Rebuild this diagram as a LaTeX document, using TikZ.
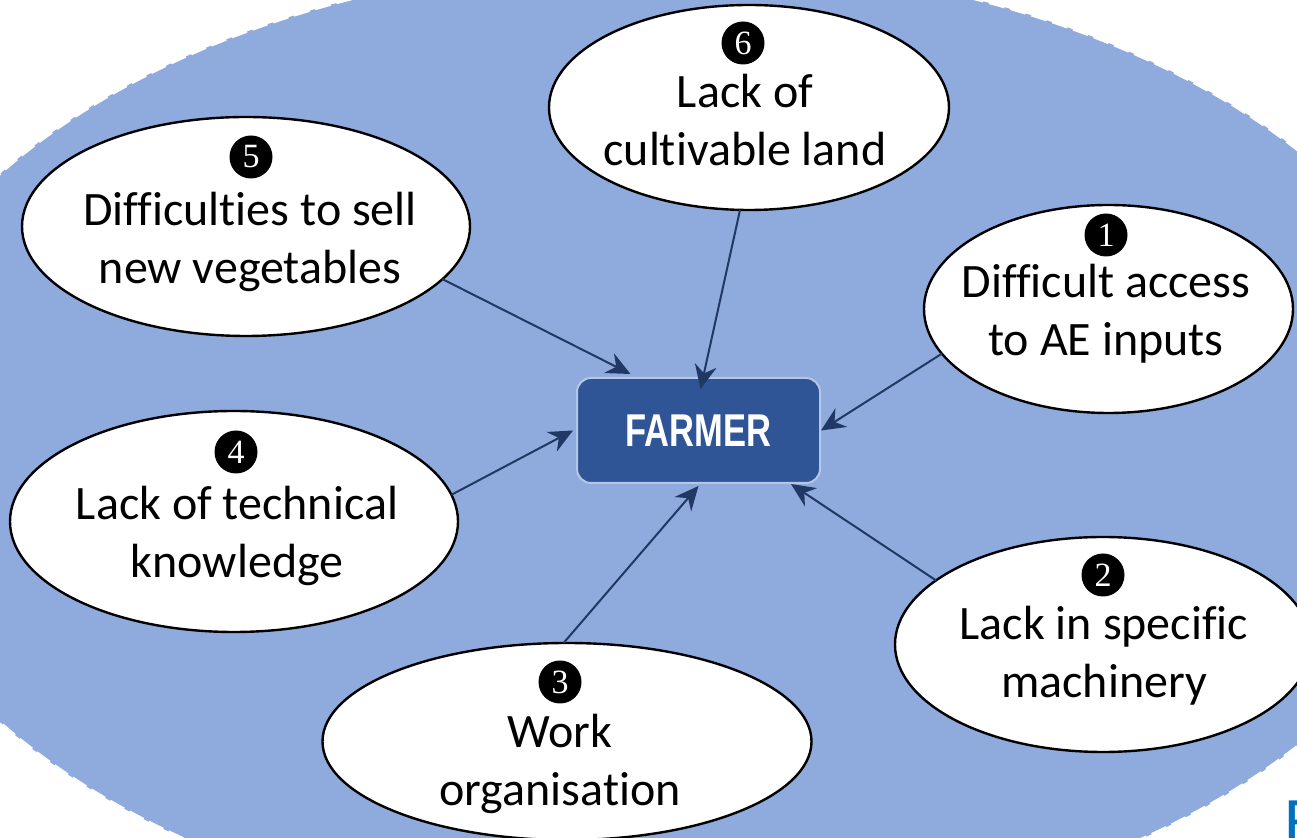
\documentclass[tikz,border=0pt]{standalone}
\usepackage{fontspec}
\setmainfont[Ligatures=NoCommon]{Carlito}
\newfontfamily\badgefont{Liberation Serif}
\newfontfamily\boxfont{Liberation Sans}
\usepackage{graphicx}
\usetikzlibrary{shapes.geometric,arrows.meta}

\definecolor{bgblue}{HTML}{8FAADC}
\definecolor{farmerblue}{HTML}{2F5597}
\definecolor{farmeredge}{HTML}{B4C7E7}
\definecolor{linkblue}{HTML}{203864}
\definecolor{cutblue}{HTML}{0070C0}

\begin{document}
\begin{tikzpicture}[x=0.5pt,y=-0.5pt,
    problem/.style={ellipse, draw=black, line width=1.2pt, fill=white, outer sep=0pt},
    txt/.style={anchor=north, align=center, inner sep=0pt, font=\fontsize{24}{29}\selectfont},
    badge/.style={circle, fill=black, text=white, inner sep=0pt, minimum size=21.5pt,
      font=\badgefont\fontsize{17}{17}\selectfont},
    link/.style={draw=linkblue, line width=1pt, -{Stealth[length=12pt,width=11pt,inset=4pt]}}]
      \useasboundingbox (0,0) rectangle (1297,838);
      % background
      \fill[bgblue] (663,448) ellipse [x radius=401pt, y radius=243.5pt];
      \draw[white, line width=1.2pt, dash pattern=on 8pt off 3pt]
        (663,448) ellipse [x radius=401pt, y radius=243.5pt];
      \node[anchor=base west, inner sep=0pt, text=cutblue, font=\fontsize{34}{34}\selectfont] (cut) at (1284,845) {E};

      \node[rectangle, rounded corners=7pt, fill=farmerblue, draw=farmeredge, line width=1pt,
        minimum width=121.5pt, minimum height=52.5pt, text=white,
        font=\boxfont\bfseries\fontsize{23}{23}\selectfont] (farmer) at (698.5,430.5) {\scalebox{0.75}[1]{FARMER}};

      \node[problem, minimum width=184.5pt, minimum height=104pt] (e1) at (1108.5,309) {};
      \node[problem, minimum width=208pt, minimum height=107.5pt] (e2) at (1103,644.5) {};
      \node[problem, minimum width=244.5pt, minimum height=98.5pt] (e3) at (567,741.5) {};
      \node[problem, minimum width=224pt, minimum height=110.5pt] (e4) at (234,521.5) {};
      \node[problem, minimum width=224pt, minimum height=109.5pt] (e5) at (246,226.5) {};
      \node[problem, minimum width=200pt, minimum height=102.5pt] (e6) at (749,107.5) {};

      \node[badge] (n1) at (1106,235) {1};
      \node[badge] (n2) at (1103,575) {2};
      \node[badge] (n3) at (560,682) {3};
      \node[badge] (n4) at (236,452) {4};
      \node[badge] (n5) at (251,157) {5};
      \node[badge] (n6) at (743,43) {6};

      \node[txt] (t1) at (1106,264) {Difficult access\\to AE inputs};
      \node[txt] (t2) at (1104,606) {Lack in specific\\machinery};
      \node[txt] (t3) at (560,714) {Work\\organisation};
      \node[txt] (t4) at (237,486) {Lack of technical\\knowledge};
      \node[txt] (t5) at (250,192) {Difficulties to sell\\new vegetables};
      \node[txt] (t6) at (745,74) {Lack of\\cultivable land};

      \draw[link] (e1.-165.3) -- (farmer.east);
      \draw[link] (e2.159.6) -- ([xshift=-15pt]farmer.south east);
      \draw[link] (e3.92.4) -- ([yshift=-1pt]farmer.south);
      \draw[link] (e4.7.6) -- ([xshift=-1.5pt]farmer.west);
      \draw[link] (e5.-15.5) -- ([xshift=-34pt,yshift=1.5pt]farmer.north);
      \draw[link] (e6.-95.3) -- ([xshift=1pt,yshift=-6pt]farmer.north);
    \end{tikzpicture}
\end{document}
